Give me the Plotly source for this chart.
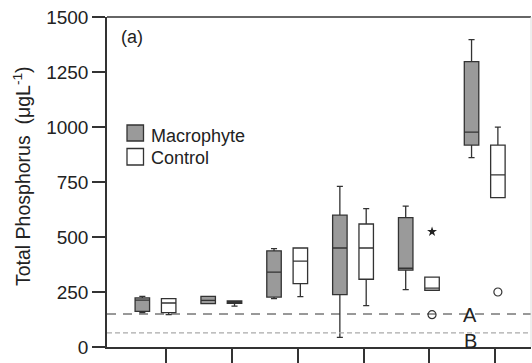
import plotly.graph_objects as go

# ---- data ----
groups = [1, 2, 3, 4, 5, 6]
macro_lowf = [156, 197, 220, 44, 261, 861]
macro_q1 = [162, 197, 227, 238, 349, 918]
macro_med = [213, 212, 340, 450, 358, 977]
macro_q3 = [223, 230, 437, 599, 588, 1297]
macro_upf = [230, 230, 447, 730, 640, 1397]

ctrl_lowf = [147, 186, 229, 188, 258, 679]
ctrl_q1 = [156, 198, 288, 308, 258, 679]
ctrl_med = [200, 203, 390, 450, 268, 782]
ctrl_q3 = [220, 209, 450, 559, 318, 918]
ctrl_upf = [220, 209, 450, 629, 318, 999]

ctrl_star_group = [5]
ctrl_star_val = [524]
ctrl_circle_group = [5, 6]
ctrl_circle_val = [147, 250]

line_A = 150
line_B = 64
y_ticks = [0, 250, 500, 750, 1000, 1250, 1500]

# ---- layout constants ----
W, H = 532, 363
ML, MR, MT, MB = 107, 1, 17, 16
PW, PH = W - ML - MR, H - MT - MB
FONT = "Liberation Sans, Arial, sans-serif"
DARK = "#333333"
GRAY = "#9a9a9a"
OFF_M, OFF_C = -0.36, 0.04

fig = go.Figure()
fig.add_trace(go.Box(
    x=[g + OFF_M for g in groups], q1=macro_q1, median=macro_med, q3=macro_q3,
    lowerfence=macro_lowf, upperfence=macro_upf,
    width=0.22, whiskerwidth=0.42, fillcolor=GRAY,
    line=dict(color=DARK, width=1.3), boxpoints=False, showlegend=False,
))
fig.add_trace(go.Box(
    x=[g + OFF_C for g in groups], q1=ctrl_q1, median=ctrl_med, q3=ctrl_q3,
    lowerfence=ctrl_lowf, upperfence=ctrl_upf,
    width=0.22, whiskerwidth=0.42, fillcolor="white",
    line=dict(color=DARK, width=1.3), boxpoints=False, showlegend=False,
))
fig.add_trace(go.Scatter(
    x=[g + OFF_C for g in ctrl_star_group], y=ctrl_star_val, mode="markers",
    marker=dict(symbol="star", size=7.5, color="#222", line=dict(width=0)),
    showlegend=False,
))
fig.add_trace(go.Scatter(
    x=[g + OFF_C for g in ctrl_circle_group], y=ctrl_circle_val, mode="markers",
    marker=dict(symbol="circle-open", size=8, color=DARK, line=dict(width=1.2)),
    showlegend=False,
))

shapes = [
    dict(type="line", xref="paper", yref="y", x0=0, x1=1, y0=line_A, y1=line_A,
         line=dict(color=DARK, width=1, dash="9px,7px")),
    dict(type="line", xref="paper", yref="y", x0=0, x1=1, y0=line_B, y1=line_B,
         line=dict(color="#aaaaaa", width=1.2, dash="5px,3px")),
    dict(type="line", xref="paper", yref="paper", x0=0, x1=1, y0=1, y1=1,
         line=dict(color=DARK, width=1.5)),
    dict(type="line", xref="paper", yref="paper", x0=1, x1=1, y0=0, y1=1,
         line=dict(color="#dddddd", width=1)),
]


def px_x(p):
    return (p - ML) / PW


def px_y(p):
    return (H - MB - p) / PH


# legend squares
for (y0, y1, col) in [(125, 141, GRAY), (148.5, 165, "white")]:
    shapes.append(dict(type="rect", xref="paper", yref="paper",
                       x0=px_x(127), x1=px_x(143.5), y0=px_y(y1), y1=px_y(y0),
                       fillcolor=col, line=dict(color=DARK, width=1.3)))

annots = [
    dict(text="Macrophyte", x=px_x(149), y=px_y(135.5)),
    dict(text="Control", x=px_x(149), y=px_y(158)),
    dict(text="(a)", x=px_x(119), y=px_y(37)),
]
annotations = []
for a in annots:
    annotations.append(dict(xref="paper", yref="paper", xanchor="left", yanchor="middle",
                            showarrow=False, font=dict(family=FONT, size=18, color="#222"),
                            **a))
for lab, yy in [("A", 315), ("B", 341)]:
    annotations.append(dict(text=lab, xref="paper", yref="paper", x=px_x(470), y=px_y(yy),
                            xanchor="center", yanchor="middle", showarrow=False,
                            font=dict(family=FONT, size=20, color="#222")))
annotations.append(dict(text="Total Phosphorus  (μgL<sup>-1</sup>)", textangle=-90,
                        xref="paper", yref="paper", x=px_x(22), y=px_y(176),
                        xanchor="center", yanchor="middle", showarrow=False,
                        font=dict(family=FONT, size=19.5, color="#222")))

fig.update_layout(
    width=W, height=H,
    margin=dict(l=ML, r=MR, t=MT, b=MB, pad=0),
    plot_bgcolor="white", paper_bgcolor="white",
    font=dict(family=FONT, size=18, color="#222"),
    shapes=shapes, annotations=annotations,
    xaxis=dict(range=[0.1033, 6.543], tickvals=groups, showticklabels=False,
               ticks="outside", ticklen=15, tickwidth=1.5, tickcolor=DARK,
               showline=True, linecolor=DARK, linewidth=1.5,
               showgrid=False, zeroline=False, fixedrange=True),
    yaxis=dict(range=[0, 1500], tickvals=y_ticks, ticks="outside", ticklen=13,
               tickwidth=1.5, tickcolor=DARK, showline=True, linecolor=DARK,
               linewidth=1.5, showgrid=False, zeroline=False, ticklabelstandoff=0,
               tickfont=dict(family=FONT, size=19, color="#222")),
)

fig.write_html("out.html")
